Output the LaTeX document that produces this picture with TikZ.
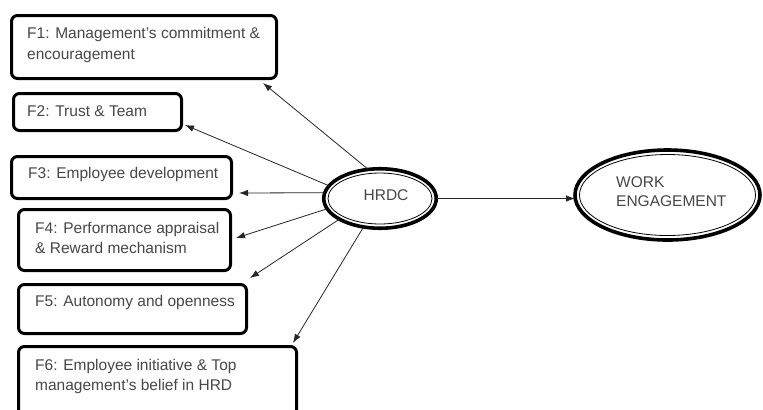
\documentclass[tikz,border=0pt]{standalone}
\usepackage{fontspec}
\setmainfont{Liberation Sans}
\usetikzlibrary{shapes.geometric,arrows.meta,calc}
\begin{document}
\begin{tikzpicture}[x=1bp,y=-1bp,
  fbox/.style={draw=black, line width=3bp, rounded corners=6bp, fill=white,
    anchor=north west, inner sep=0pt, outer sep=0pt},
  ftext/.style={anchor=north west, inner sep=0pt, align=left, text=black!72,
    font=\fontsize{15.5bp}{20bp}\selectfont},
  ellout/.style={ellipse, draw=black, line width=3.6bp, inner sep=0pt, outer sep=0pt},
  ellin/.style={ellipse, draw=black, line width=0.8bp, inner sep=0pt, outer sep=0pt},
  arr/.style={draw=black!85, line width=0.8bp, -{Latex[length=9bp,width=6.5bp]}}]
\useasboundingbox (0,0) rectangle (763,409);
\clip (0,0) rectangle (763,409);
\fill[white] (0,0) rectangle (763,409);

% boxes
\node[fbox, minimum width=265bp, minimum height=63bp] (f1) at (11.5,15.5) {};
\node[fbox, minimum width=168bp, minimum height=37bp] (f2) at (13.5,93.5) {};
\node[fbox, minimum width=220bp, minimum height=42bp] (f3) at (11.5,156.5) {};
\node[fbox, minimum width=212bp, minimum height=61bp] (f4) at (18.5,209.5) {};
\node[fbox, minimum width=228bp, minimum height=49bp] (f5) at (18.5,284.5) {};
\node[fbox, minimum width=278bp, minimum height=80bp] (f6) at (18.5,346.5) {};

% texts
\node[ftext, font=\fontsize{15.5bp}{21.5bp}\selectfont] (t1) at (27,27) {F1: Management’s commitment \&\\encouragement};
\node[ftext] (t2) at (27,105) {F2: Trust \& Team};
\node[ftext] (t3) at (28,167) {F3: Employee development};
\node[ftext] (t4) at (35,222) {F4: Performance appraisal\\\& Reward mechanism};
\node[ftext] (t5) at (35,295) {F5: Autonomy and openness};
\node[ftext] (t6) at (35,359) {F6: Employee initiative \& Top\\management’s belief in HRD};

% ellipses
\node[ellout, minimum width=112.5bp, minimum height=59.5bp] (hrdc) at (380,198.5) {};
\node[ellin, minimum width=104bp, minimum height=51bp] (hrdcin) at (380,198.5) {};
\node[ftext, anchor=base] (th) at (386,200) {HRDC};

\node[ellout, minimum width=185bp, minimum height=90bp] (we) at (667.5,195) {};
\node[ellin, minimum width=176bp, minimum height=81bp] (wein) at (667.5,195) {};
\node[ftext, font=\fontsize{15.5bp}{19bp}\selectfont] (tw) at (616,176) {WORK\\ENGAGEMENT};

% connectors
\draw[arr] (hrdc.112) -- ($(f1.south east)+(-13.5,4.5)$);
\draw[arr] (hrdc.166) -- ($(f2.east)+(3.5,13)$);
\draw[arr] (hrdc.174) -- ($(f3.east)+(7.5,15.5)$);
\draw[arr] (hrdc.191) -- ($(f4.east)+(5.5,-2)$);
\draw[arr] (hrdc.207) -- ($(f5.north east)+(3.5,-6.5)$);
\draw[arr] (hrdc.240) -- ($(f6.north east)+(-3.5,-3.5)$);
\draw[arr] (hrdc.east) -- (hrdc.east -| we.west);
\end{tikzpicture}
\end{document}
